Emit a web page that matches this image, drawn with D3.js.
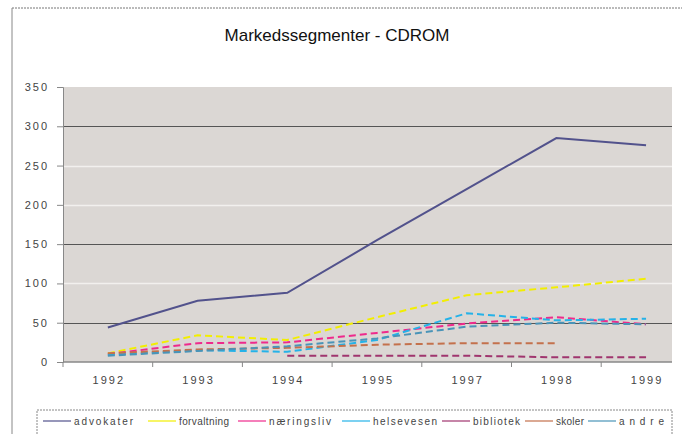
<!DOCTYPE html>
<html>
<head>
<meta charset="utf-8">
<script src="https://cdn.jsdelivr.net/npm/d3@7"></script>
<style>
  body { margin: 0; background: #fff; }
  svg { display: block; font-family: "Liberation Sans", Arial, sans-serif; }
</style>
</head>
<body>
<script>
var width = 682,
    height = 434;

var years = ["1992", "1993", "1994", "1995", "1997", "1998", "1999"];
var yTicks = [0, 50, 100, 150, 200, 250, 300, 350];

var advokater   = [44, 78, 88, 155, 220, 285, 276];
var forvaltning = [11, 34, 28, 57, 85, 95, 106];
var naeringsliv = [10, 24, 25, 37, 49, 57, 48];
var helsevesen  = [9, 15, 13, 28, 62, 53, 55];
var bibliotek   = [null, null, 8, 8, 8, 6, 6];
var skoler      = [11, 16, 18, 22, 24, 24, null];
var andre       = [8, 14, 20, 30, 45, 50, 48];

var seriesNames  = ["advokater", "forvaltning", "næringsliv", "helsevesen", "bibliotek", "skoler", "andre"];
var seriesValues = [advokater, forvaltning, naeringsliv, helsevesen, bibliotek, skoler, andre];
var colors = ["#52528c", "#f2ee00", "#ee2a8c", "#25b2e8", "#a0356e", "#c4714c", "#4a94b8"];

var plot = {left: 63, top: 87, right: 672, bottom: 362};

var xScale = d3.scaleBand()
    .domain(years)
    .range([plot.left, plot.left + 89.7 * years.length]);

var yScale = d3.scaleLinear()
    .domain([0, 350])
    .range([plot.bottom, plot.top]);

var svg = d3.select("body")
    .append("svg")
    .attr("width", width)
    .attr("height", height);

// chart area border (only top and left visible)
svg.append("line")
    .attr("x1", 12).attr("x2", width).attr("y1", 8).attr("y2", 8)
    .attr("stroke", "#777").attr("stroke-dasharray", "2,1");
svg.append("line")
    .attr("x1", 12).attr("x2", 12).attr("y1", 8).attr("y2", height)
    .attr("stroke", "#888");

svg.append("text")
    .attr("x", 337)
    .attr("y", 41)
    .attr("text-anchor", "middle")
    .attr("font-size", 17)
    .attr("fill", "#111")
    .text("Markedssegmenter - CDROM");

// plot background
svg.append("rect")
    .attr("x", plot.left)
    .attr("y", plot.top)
    .attr("width", plot.right - plot.left)
    .attr("height", plot.bottom - plot.top)
    .attr("fill", "#dbd7d4");

// gridlines: dark at some values, light at the others (as in the picture)
svg.selectAll(".grid")
    .data(yTicks.filter(function(d) { return d > 0 && d < 350; }))
    .enter()
    .append("line")
    .attr("class", "grid")
    .attr("x1", plot.left)
    .attr("x2", plot.right)
    .attr("y1", function(d) { return Math.round(yScale(d)) + 0.5; })
    .attr("y2", function(d) { return Math.round(yScale(d)) + 0.5; })
    .attr("stroke", function(d) { return (d === 50 || d === 150 || d === 300) ? "#555" : "#f2f0ee"; })
    .attr("stroke-width", function(d) { return (d === 50 || d === 150 || d === 300) ? 1.2 : 1.5; });

// y axis
var yAxis = d3.axisLeft(yScale)
    .tickValues(yTicks)
    .tickSize(6)
    .tickPadding(8);

var gy = svg.append("g")
    .attr("transform", "translate(" + plot.left + ",0)")
    .call(yAxis);
gy.select(".domain").attr("stroke", "#888");
gy.selectAll(".tick line").attr("stroke", "#888");
gy.selectAll("text")
    .attr("font-size", 11)
    .attr("letter-spacing", 2)
    .attr("fill", "#444");

// x axis with ticks between categories
var gx = svg.append("g")
    .attr("transform", "translate(0," + plot.bottom + ")");
gx.append("line")
    .attr("x1", plot.left).attr("x2", plot.right)
    .attr("stroke", "#888").attr("stroke-width", 1.5);
gx.selectAll(".xtick")
    .data(years)
    .enter()
    .append("line")
    .attr("class", "xtick")
    .attr("x1", function(d) { return xScale(d); })
    .attr("x2", function(d) { return xScale(d); })
    .attr("y1", 0).attr("y2", 5)
    .attr("stroke", "#888");
gx.selectAll(".xlabel")
    .data(years)
    .enter()
    .append("text")
    .attr("class", "xlabel")
    .attr("x", function(d) { return xScale(d) + xScale.bandwidth() / 2 + 1; })
    .attr("y", 22)
    .attr("text-anchor", "middle")
    .attr("font-size", 11)
    .attr("letter-spacing", 2)
    .attr("fill", "#444")
    .text(function(d) { return d; });

// lines
var line = d3.line()
    .defined(function(d) { return d != null; })
    .x(function(d, i) { return xScale(years[i]) + xScale.bandwidth() / 2; })
    .y(function(d) { return yScale(d); });

svg.selectAll(".series")
    .data(seriesValues)
    .enter()
    .append("path")
    .attr("class", "series")
    .attr("d", line)
    .attr("fill", "none")
    .attr("stroke", function(d, i) { return colors[i]; })
    .attr("stroke-width", 2)
    .attr("stroke-dasharray", function(d, i) { return i === 0 ? null : "7,4"; });

// legend
var legendX = [43, 148, 238, 342, 442, 525, 588];
var legendW = [59, 50, 62, 64, 47, 28, 45];
var legend = svg.append("g");
legend.append("path")
    .attr("d", "M37,434 V410 H672 V434")
    .attr("fill", "none")
    .attr("stroke", "#888")
    .attr("stroke-dasharray", "2,1");

var items = legend.selectAll(".item")
    .data(seriesNames)
    .enter()
    .append("g")
    .attr("class", "item")
    .attr("transform", function(d, i) { return "translate(" + legendX[i] + ",421)"; });
items.append("line")
    .attr("x1", 0).attr("x2", 28)
    .attr("stroke", function(d, i) { return colors[i]; })
    .attr("stroke-width", 1.2);
items.append("text")
    .attr("x", 31)
    .attr("y", 3.5)
    .attr("font-size", 10)
    .attr("fill", "#444")
    .attr("textLength", function(d, i) { return legendW[i]; })
    .attr("lengthAdjust", "spacing")
    .text(function(d) { return d; });
</script>
</body>
</html>
